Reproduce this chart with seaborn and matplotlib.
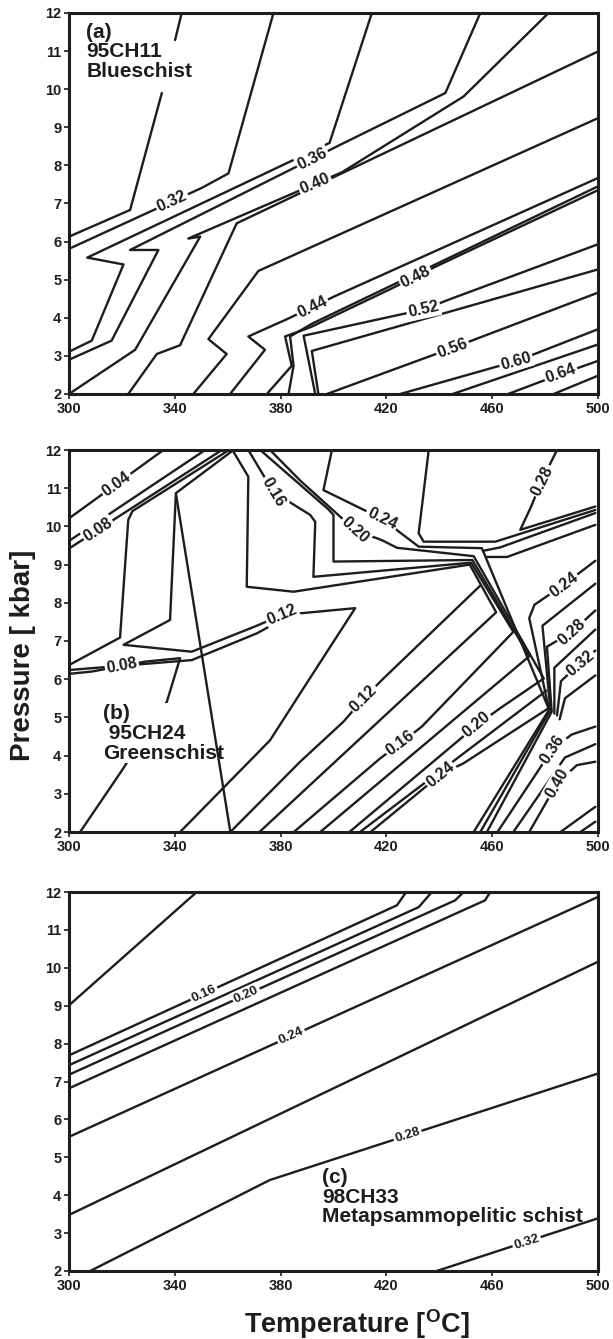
import numpy as np
import pandas as pd
import seaborn as sns
import matplotlib.pyplot as plt

# ---------------- (a) 95CH11 Blueschist ----------------
# every contour is a list of temperatures (deg C) and matching pressures (kbar)
a_T = [
    [342.6, 340.1],
    [335.1, 323.1, 300],
    [300, 350.2, 360.3, 377.3],
    [300, 308.6, 320.6, 306.9, 398.5, 414.5],
    [300, 316.1, 333.8, 323.1, 402.5, 442.3, 455.5],
    [300, 325.0, 349.6, 345.1, 403.2, 449.2, 481.3],
    [322.4, 333.2, 342.0, 363.4, 500],
    [347.0, 359.6, 352.7, 371.6, 500],
    [360.9, 374.1, 367.8, 382.3, 400.6, 500],
    [374.8, 384.2, 381.7, 391.2, 421.4, 439.1, 500],
    [383.0, 384.9, 383.6, 392.0, 500],
    [393.1, 388.7, 434.1, 444.1, 500],
    [394.3, 391.8, 500],
    [397.5, 445.4, 500],
    [425.2, 469.4, 500],
    [445.0, 500],
    [466.0, 485.8, 500],
    [483.2, 500],
]
a_P = [
    [12.0, 11.29],
    [9.90, 6.83, 6.13],
    [5.81, 7.41, 7.79, 12],
    [3.11, 3.40, 5.40, 5.58, 8.59, 12],
    [2.90, 3.40, 5.78, 5.78, 8.54, 9.90, 12],
    [2.00, 3.16, 6.13, 6.08, 7.82, 9.81, 12],
    [2.00, 3.05, 3.28, 6.48, 10.99],
    [2.00, 3.05, 3.44, 5.23, 9.24],
    [2.00, 3.16, 3.51, 3.96, 4.57, 7.67],
    [2.00, 2.74, 3.51, 3.75, 4.75, 5.36, 7.35],
    [2.00, 2.74, 3.51, 3.85, 7.45],
    [2.00, 3.53, 4.22, 4.49, 5.93],
    [2.00, 3.13, 5.27],
    [2.00, 3.22, 4.66],
    [2.00, 2.87, 3.70],
    [2.00, 3.30],
    [2.00, 2.52, 2.87],
    [2.00, 2.48],
]
a_lab = ['0.32', '0.36', '0.40', '0.44', '0.48', '0.52', '0.56', '0.60', '0.64']
a_lab_line = [2, 4, 5, 8, 9, 11, 13, 14, 16]
a_lab_T = [339, 392, 393, 392, 431, 434, 445, 469, 486]
a_lab_pick = [-1, -1, -1, -1, -1, -1, -1, -1, -1]

# ---------------- (b) 95CH24 Greenschist ----------------
b_T = [
    [300, 335.7],
    [300, 351.5],
    [300, 357.8],
    [300, 319.3, 322.4, 324.0, 360.5],
    [362.2, 340.4, 361.0],
    [340.4, 338.2, 320.6, 346.4, 371.0, 380.5, 408.2, 387.4, 376.0, 342.0],
    [300, 346.4, 371.0, 379.0],
    [300, 308.6, 328.8, 342.0, 337.0, 319.3, 304.2],
    [361.8, 367.8, 367.2, 384.9, 451.5, 461.5, 372.0],
    [367.8, 377.3, 391.2, 393.1, 392.4, 452.0, 468.0, 433.4, 425.2, 417.7, 385.0],
    [372.3, 398.0, 400.0, 400.0, 452.5, 474.0, 395.0],
    [376.0, 387.4, 408.2, 418.3, 424.0, 453.0, 479.5, 463.0, 454.2, 406.0],
    [399.4, 396.2, 418.3, 432.2, 456.1, 481.3, 449.2, 440.4, 414.0],
    [436.0, 432.2, 434.1, 461.2, 499.0],
    [484.5, 478.8, 474.4, 470.6, 499.0],
    [456.5, 463.0, 499.0],
    [458.0, 465.6, 499.0],
    [455.5, 418.9, 411.4, 403.8, 387.4, 361.0],
    [480.5, 410.0],
    [499.0, 487.0, 476.0, 474.0, 481.5, 453.0],
    [499.0, 479.0, 482.0, 455.5],
    [499.0, 490.2, 480.7, 482.5, 458.0],
    [499.0, 483.5, 483.5],
    [499.0, 493.3, 486.0, 484.5],
    [499.0, 487.5, 485.5],
    [462.0, 482.6, 490.0, 499.0],
    [468.0, 487.5, 499.0],
    [474.0, 484.5, 492.0, 499.0],
    [485.8, 499.0],
    [493.3, 499.0],
]
b_P = [
    [10.21, 12],
    [9.62, 12],
    [9.42, 12],
    [6.37, 7.09, 10.17, 10.40, 12],
    [12.0, 10.87, 2.0],
    [10.85, 7.55, 6.90, 6.72, 7.40, 7.68, 7.86, 5.63, 4.40, 2.00],
    [6.24, 6.50, 7.20, 7.50],
    [6.14, 6.20, 6.46, 6.55, 5.41, 3.54, 2.00],
    [12.0, 11.30, 8.42, 8.29, 9.00, 7.75, 2.00],
    [12.0, 10.90, 10.30, 10.12, 8.68, 9.05, 7.24, 4.76, 4.32, 3.93, 2.00],
    [12.0, 10.45, 10.30, 9.08, 9.12, 6.60, 2.00],
    [12.0, 11.20, 9.90, 9.64, 9.44, 9.22, 6.02, 5.24, 4.80, 2.00],
    [12.0, 10.95, 10.20, 9.47, 9.43, 5.24, 3.80, 3.50, 2.00],
    [12.0, 9.82, 9.60, 9.60, 10.43],
    [12.0, 11.20, 10.47, 9.91, 10.52],
    [9.36, 9.45, 10.35],
    [9.20, 9.20, 10.04],
    [8.45, 6.02, 5.50, 4.89, 3.84, 2.00],
    [5.70, 2.00],
    [9.10, 8.47, 7.95, 7.60, 5.20, 2.00],
    [8.50, 7.40, 5.20, 2.00],
    [7.80, 7.24, 6.85, 5.15, 2.00],
    [7.30, 6.30, 5.10],
    [6.75, 6.42, 5.95, 5.05],
    [6.10, 5.50, 4.95],
    [2.00, 4.15, 4.55, 4.76],
    [2.00, 3.95, 4.30],
    [2.00, 3.27, 3.75, 3.84],
    [2.00, 2.66],
    [2.00, 2.27],
]
b_lab = ['0.04', '0.08', '0.08', '0.12', '0.16', '0.20', '0.24', '0.28',
         '0.12', '0.16', '0.20', '0.24', '0.24', '0.28', '0.32', '0.36', '0.40']
b_lab_line = [0, 2, 7, 5, 9, 11, 12, 14, 17, 9, 11, 12, 19, 21, 23, 25, 27]
b_lab_T = [318, 311, 320, 380.5, 377.3, 408.2, 418.3, 478.8, 411.4, 425.2, 454.2, 440.4,
           487, 490.2, 493.3, 482.6, 484.5]
b_lab_pick = [0, 0, 0, 0, 0, 0, 0, 0, 0, -1, -1, -1, 0, 0, 0, 0, 0]
b_front = 4  # the steep contour that is drawn across the sample name

# ---------------- (c) 98CH33 Metapsammopelitic schist ----------------
c_T = [
    [300, 348.3],
    [300, 424.0, 427.5],
    [300, 432.2, 437.2],
    [300, 446.0, 449.2],
    [300, 457.3, 459.3],
    [300, 500],
    [300, 500],
    [308.0, 375.9, 500],
    [439.0, 500],
]
c_P = [
    [9.01, 12],
    [7.69, 11.65, 12],
    [7.43, 11.60, 12],
    [7.18, 11.78, 12],
    [6.82, 11.78, 12],
    [5.54, 11.87],
    [3.48, 10.16],
    [2.00, 4.40, 7.21],
    [2.00, 3.39],
]
c_lab = ['0.16', '0.20', '0.24', '0.28', '0.32']
c_lab_line = [1, 3, 5, 7, 8]
c_lab_T = [351, 367, 384, 428, 473]
c_lab_pick = [0, 0, 0, 0, 0]

x_ticks = [300, 340, 380, 420, 460, 500]
y_ticks = [2, 3, 4, 5, 6, 7, 8, 9, 10, 11, 12]

sns.set_theme(style="white")
plt.rcParams['font.family'] = ['Liberation Sans', 'DejaVu Sans']
plt.rcParams['font.weight'] = 'bold'
plt.rcParams['mathtext.fontset'] = 'custom'
plt.rcParams['mathtext.rm'] = 'Liberation Sans'

ink = '#1e1c1c'
W, H = 613, 1339
fig = plt.figure(figsize=(W / 100, H / 100), dpi=100)


def make_ax(top, bottom):
    return fig.add_axes([69 / W, 1 - bottom / H, (598 - 69) / W, (bottom - top) / H])


def draw_lines(ax, temps, press, keep=None, z=2):
    rows = []
    for i, (t, p) in enumerate(zip(temps, press)):
        if keep is not None and i not in keep:
            continue
        for k, (x, y) in enumerate(zip(t, p)):
            rows.append((i, k, x, y))
    df = pd.DataFrame(rows, columns=['line', 'order', 'T', 'P'])
    sns.lineplot(data=df, x='T', y='P', units='line', estimator=None, sort=False,
                 color=ink, lw=1.7, ax=ax, zorder=z, legend=False)


def style_ax(ax):
    ax.set_xlim(300, 500)
    ax.set_ylim(2, 12)
    ax.set_xticks(x_ticks)
    ax.set_yticks(y_ticks)
    ax.set_xlabel('')
    ax.set_ylabel('')
    for s in ax.spines.values():
        s.set_linewidth(2.2)
        s.set_color(ink)
        s.set_zorder(6)
    ax.tick_params(direction='out', length=3.5, width=1.2, color=ink, pad=2,
                   labelsize=10.5, labelcolor=ink, bottom=True, left=True)
    for lab in ax.get_xticklabels() + ax.get_yticklabels():
        lab.set_fontweight('bold')


def add_labels(ax, temps, press, labs, lines, tpos, picks, fs):
    for text, li, t0, pick in zip(labs, lines, tpos, picks):
        T = np.array(temps[li], float)
        P = np.array(press[li], float)
        segs = [k for k in range(len(T) - 1)
                if T[k] != T[k + 1] and min(T[k], T[k + 1]) <= t0 <= max(T[k], T[k + 1])]
        if not segs:
            continue
        seg = segs[pick]
        f = (t0 - T[seg]) / (T[seg + 1] - T[seg])
        p0 = P[seg] + f * (P[seg + 1] - P[seg])
        d1 = ax.transData.transform((T[seg], P[seg]))
        d2 = ax.transData.transform((T[seg + 1], P[seg + 1]))
        ang = np.degrees(np.arctan2(d2[1] - d1[1], d2[0] - d1[0]))
        if ang > 90:
            ang -= 180
        if ang < -90:
            ang += 180
        ax.text(t0, p0, text, rotation=ang, rotation_mode='anchor', ha='center', va='center',
                fontsize=fs, fontweight='bold', color=ink, zorder=5,
                bbox=dict(fc='white', ec='none', pad=1.2))


# panel a
ax_a = make_ax(13, 394)
draw_lines(ax_a, a_T, a_P)
style_ax(ax_a)
add_labels(ax_a, a_T, a_P, a_lab, a_lab_line, a_lab_T, a_lab_pick, 11.5)
ax_a.text(0.033, 0.975, '(a)\n95CH11\nBlueschist', transform=ax_a.transAxes, ha='left', va='top',
          fontsize=15, fontweight='bold', color=ink, linespacing=1.05, zorder=4)

# panel b
ax_b = make_ax(450, 832)
back = [i for i in range(len(b_T)) if i != b_front]
draw_lines(ax_b, b_T, b_P, keep=back)
draw_lines(ax_b, b_T, b_P, keep=[b_front], z=4)
style_ax(ax_b)
add_labels(ax_b, b_T, b_P, b_lab, b_lab_line, b_lab_T, b_lab_pick, 11.5)
ax_b.text(0.065, 0.335, '(b)\n 95CH24\nGreenschist', transform=ax_b.transAxes, ha='left', va='top',
          fontsize=15, fontweight='bold', color=ink, linespacing=1.05, zorder=3,
          bbox=dict(fc='white', ec='none', pad=0.5))

# panel c
ax_c = make_ax(892, 1271)
draw_lines(ax_c, c_T, c_P)
style_ax(ax_c)
add_labels(ax_c, c_T, c_P, c_lab, c_lab_line, c_lab_T, c_lab_pick, 9.5)
ax_c.text(0.478, 0.272, '(c)\n98CH33\nMetapsammopelitic schist', transform=ax_c.transAxes,
          ha='left', va='top', fontsize=15, fontweight='bold', color=ink, linespacing=1.05,
          zorder=4)

fig.text(23 / W, 1 - 655 / H, 'Pressure [ kbar]', rotation=90, ha='center', va='center',
         fontsize=20, fontweight='bold', color=ink)
fig.text(357 / W, 1 - 1333 / H, r'Temperature [$^{\mathrm{O}}$C]', ha='center', va='baseline',
         fontsize=19.5, fontweight='bold', color=ink)

fig.savefig('out.png', dpi=100, facecolor='white')
